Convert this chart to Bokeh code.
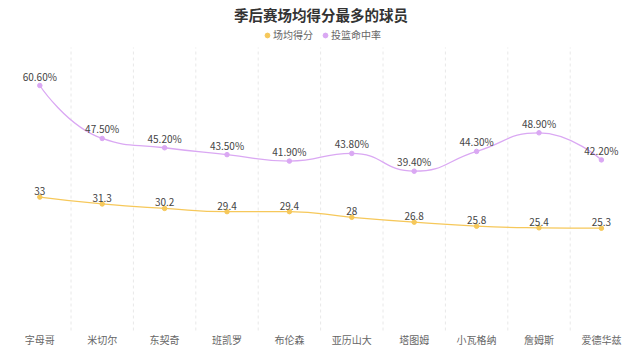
import math
from bokeh.plotting import figure
from bokeh.models import (ColumnDataSource, FixedTicker, Legend, LegendItem, Label)
from bokeh.core.properties import value
from bokeh.embed import file_html
from bokeh.resources import INLINE

players = ["字母哥", "米切尔", "东契奇", "班凯罗", "布伦森", "亚历山大", "塔图姆", "小瓦格纳", "詹姆斯", "爱德华兹"]
points = [33, 31.3, 30.2, 29.4, 29.4, 28, 26.8, 25.8, 25.4, 25.3]
fg_pct = [60.6, 47.5, 45.2, 43.5, 41.9, 43.8, 39.4, 44.3, 48.9, 42.2]
series_names = ["场均得分", "投篮命中率"]
title_text = "季后赛场均得分最多的球员"

YELLOW = "#F6C85A"
PURPLE = "#DAA8F3"
FONT = "Noto Sans CJK SC"

W, H = 624, 346
YMAX = 70
N = len(players)
xs = list(range(N))

# layout (pixels from the figure's top-left)
STEP = 62.4          # width of one category
LEFT = 8.1           # left edge of the first category
ZERO_PX = 330        # row of y = 0
TOP_PX = 47          # row of y = YMAX
k = (ZERO_PX - TOP_PX) / YMAX
x_start = -0.5 - LEFT / STEP
x_end = x_start + W / STEP
y_start = -(H - ZERO_PX) / k
y_end = YMAX + TOP_PX / k

p = figure(width=W, height=H, output_backend="svg", toolbar_location=None,
           x_range=(x_start, x_end), y_range=(y_start, y_end),
           min_border=0, min_border_left=0, min_border_right=0,
           min_border_top=0, min_border_bottom=0)
p.outline_line_color = None
p.background_fill_color = "white"
p.yaxis.visible = False
p.ygrid.visible = False
p.xgrid.visible = False

ax = p.xaxis[0]
ax.fixed_location = 0
ax.ticker = FixedTicker(ticks=xs)
ax.major_label_overrides = {i: n for i, n in enumerate(players)}
ax.axis_line_color = None
ax.major_tick_line_color = None
ax.minor_tick_line_color = None
ax.major_tick_out = 0
ax.major_tick_in = 0
ax.minor_tick_out = 0
ax.major_label_text_font = FONT
ax.major_label_text_font_size = "10px"
ax.major_label_text_color = "#666666"
ax.major_label_standoff = 1

# dashed separators between categories, spanning the value range
bounds = [i + 0.5 for i in xs[:-1]]
p.segment(x0=bounds, y0=[0] * len(bounds), x1=bounds, y1=[YMAX] * len(bounds),
          line_color="#e8e8e8", line_dash="3 3", line_width=1)

sx = STEP
sy = k


def smooth_segments(xv, yv, smooth=0.5):
    pts = [(x * sx, y * sy) for x, y in zip(xv, yv)]
    n = len(pts)
    cin = [None] * n
    cout = [None] * n
    cout[0] = pts[0]
    cin[0] = pts[0]
    for i in range(1, n):
        x, y = pts[i]
        px, py = pts[i - 1]
        if i == n - 1:
            cin[i] = (x, y)
            cout[i] = (x, y)
            continue
        nx, ny = pts[i + 1]
        vx, vy = nx - px, ny - py
        d0 = math.hypot(x - px, y - py)
        d1 = math.hypot(nx - x, ny - y)
        r = d1 / (d0 + d1)
        c1x = x + vx * smooth * r
        c1y = y + vy * smooth * r
        c1x = max(min(c1x, max(nx, x)), min(nx, x))
        c1y = max(min(c1y, max(ny, y)), min(ny, y))
        vx, vy = c1x - x, c1y - y
        c0x = x - vx * d0 / d1
        c0y = y - vy * d0 / d1
        c0x = max(min(c0x, max(px, x)), min(px, x))
        c0y = max(min(c0y, max(py, y)), min(py, y))
        vx, vy = x - c0x, y - c0y
        c1x = x + vx * d1 / d0
        c1y = y + vy * d1 / d0
        cin[i] = (c0x, c0y)
        cout[i] = (c1x, c1y)
    seg = dict(x0=[], y0=[], x1=[], y1=[], cx0=[], cy0=[], cx1=[], cy1=[])
    for i in range(n - 1):
        seg["x0"].append(xv[i]); seg["y0"].append(yv[i])
        seg["x1"].append(xv[i + 1]); seg["y1"].append(yv[i + 1])
        seg["cx0"].append(cout[i][0] / sx); seg["cy0"].append(cout[i][1] / sy)
        seg["cx1"].append(cin[i + 1][0] / sx); seg["cy1"].append(cin[i + 1][1] / sy)
    return seg


legend_items = []
for vals, color, name, fmt in [(points, YELLOW, series_names[0], lambda v: f"{v:g}"),
                               (fg_pct, PURPLE, series_names[1], lambda v: f"{v:.2f}%")]:
    seg = ColumnDataSource(smooth_segments(xs, vals))
    p.bezier(x0="x0", y0="y0", x1="x1", y1="y1", cx0="cx0", cy0="cy0",
             cx1="cx1", cy1="cy1", source=seg, line_color=color, line_width=1.3)
    src = ColumnDataSource(dict(x=xs, y=vals, lab=[fmt(v) for v in vals]))
    r = p.scatter("x", "y", source=src, size=4.5, fill_color=color, line_color=color)
    p.text("x", "y", text="lab", source=src, text_align="center", text_baseline="bottom",
           y_offset=-2, text_font=value(FONT), text_font_size="10px", text_color="#444444")
    legend_items.append(LegendItem(label=name, renderers=[r]))

legend = Legend(items=legend_items, orientation="horizontal",
                location=(261, H - 42),
                glyph_width=12, glyph_height=12, label_standoff=0, spacing=6,
                padding=0, margin=0, border_line_color=None, background_fill_alpha=0,
                label_text_font=FONT, label_text_font_size="10px",
                label_text_color="#666666", label_height=12)
p.add_layout(legend, "center")

title = Label(x=320.5, y=H - 14, x_units="screen", y_units="screen",
              text=title_text, text_align="center", text_baseline="middle",
              text_font=FONT, text_font_size="14.5px", text_font_style="bold",
              text_color="#333333")
p.add_layout(title)

open("out.html", "w").write(file_html(p, INLINE))
